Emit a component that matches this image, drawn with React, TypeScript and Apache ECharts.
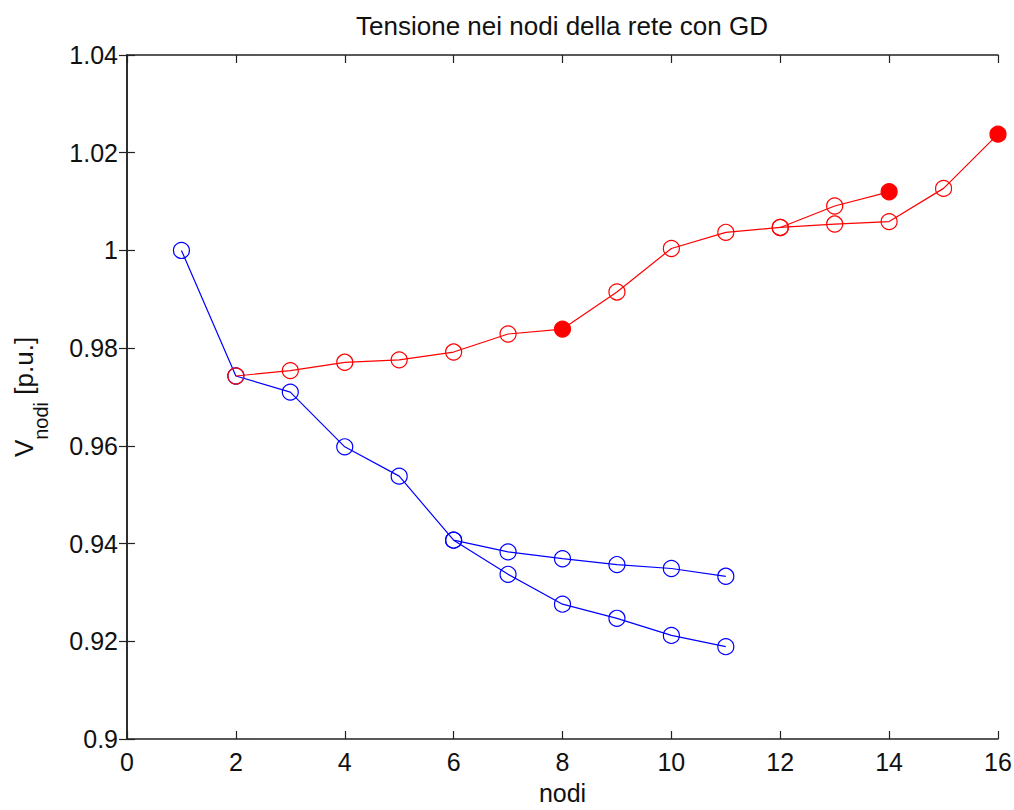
import React, { useEffect, useRef } from "react";
import * as echarts from "echarts";

const titleText = "Tensione nei nodi della rete con GD";
const xTicks = [0, 2, 4, 6, 8, 10, 12, 14, 16];
const yTicks = [0.9, 0.92, 0.94, 0.96, 0.98, 1.0, 1.02, 1.04];

// Rete senza GD (blu)
const blueTrunkNodes = [1, 2, 3, 4, 5, 6];
const blueTrunkValues = [1.0, 0.9743, 0.971, 0.9598, 0.9538, 0.9407];
const blueBranchNodes = [7, 8, 9, 10, 11];
const blueUpperValues = [0.9383, 0.9369, 0.9357, 0.9349, 0.9333];
const blueLowerValues = [0.9337, 0.9276, 0.9247, 0.9212, 0.9189];

// Rete con GD (rosso)
const redTrunkNodes = [2, 3, 4, 5, 6, 7, 8, 9, 10, 11, 12];
const redTrunkValues = [0.9743, 0.9754, 0.9771, 0.9776, 0.9792, 0.9829, 0.9839, 0.9915, 1.0004, 1.0037, 1.0047];
const redLowerNodes = [13, 14, 15, 16];
const redLowerValues = [1.0054, 1.0059, 1.0127, 1.0238];
const redUpperNodes = [13, 14];
const redUpperValues = [1.0091, 1.012];
// nodi con generatori (marker pieni)
const gdTrunkNodes = [8];
const gdLowerNodes = [16];
const gdUpperNodes = [14];

const FONT = "'Liberation Sans', Arial, sans-serif";

function pts(nodes: number[], vals: number[], filled: number[], color: string) {
  return nodes.map((n, i) => {
    const d: any = { value: [n, vals[i]] };
    if (filled.includes(n)) d.itemStyle = { color, borderColor: color };
    return d;
  });
}

function lineSeries(data: any[], color: string) {
  return {
    type: "line",
    xAxisIndex: 0,
    yAxisIndex: 0,
    data,
    symbol: "circle",
    symbolSize: 16,
    showAllSymbol: true,
    lineStyle: { color, width: 1.2 },
    itemStyle: { color: "rgba(0,0,0,0)", borderColor: color, borderWidth: 1.2 },
    emphasis: { disabled: true },
  };
}

export default function App() {
  const ref = useRef<HTMLDivElement>(null);
  useEffect(() => {
    document.body.style.margin = "0";
    const chart = echarts.init(ref.current!, null, { renderer: "svg" });
    const fmt = (v: number) => String(parseFloat(v.toFixed(2)));
    const blueA = pts(
      [...blueTrunkNodes, ...blueBranchNodes],
      [...blueTrunkValues, ...blueUpperValues],
      [],
      "#0000ff"
    );
    const blueB = pts(
      [blueTrunkNodes[blueTrunkNodes.length - 1], ...blueBranchNodes],
      [blueTrunkValues[blueTrunkValues.length - 1], ...blueLowerValues],
      [],
      "#0000ff"
    );
    const redA = pts(
      [...redTrunkNodes, ...redLowerNodes],
      [...redTrunkValues, ...redLowerValues],
      [...gdTrunkNodes, ...gdLowerNodes],
      "#ff0000"
    );
    const redB = pts(
      [redTrunkNodes[redTrunkNodes.length - 1], ...redUpperNodes],
      [redTrunkValues[redTrunkValues.length - 1], ...redUpperValues],
      gdUpperNodes,
      "#ff0000"
    );
    const axisCommon = {
      axisLine: { show: true, lineStyle: { color: "#222", width: 1.5 } },
      axisTick: { show: true, inside: true, length: 8, lineStyle: { color: "#222", width: 1.2 } },
      splitLine: { show: false },
    };
    const labelStyle = { fontFamily: FONT, fontSize: 25, color: "#111" };
    chart.setOption({
      animation: false,
      backgroundColor: "#fff",
      title: {
        text: titleText,
        left: 557,
        textAlign: "center",
        top: 8,
        textStyle: { fontFamily: FONT, fontSize: 26, fontWeight: "normal", color: "#111" },
      },
      grid: { left: 127, right: 16, top: 55, bottom: 71, show: false, outerBoundsMode: "none", containLabel: false },
      xAxis: [
        {
          type: "value",
          min: xTicks[0],
          max: xTicks[xTicks.length - 1],
          interval: 2,
          position: "bottom",
          name: "nodi",
          nameLocation: "middle",
          nameGap: 41,
          nameTextStyle: { fontFamily: FONT, fontSize: 25, color: "#111" },
          axisLabel: { ...labelStyle, margin: 10 },
          ...axisCommon,
        },
        {
          type: "value",
          min: xTicks[0],
          max: xTicks[xTicks.length - 1],
          interval: 2,
          position: "top",
          axisLabel: { show: false },
          ...axisCommon,
        },
      ],
      yAxis: [
        {
          type: "value",
          min: yTicks[0],
          max: yTicks[yTicks.length - 1],
          interval: 0.02,
          position: "left",
          axisLabel: { ...labelStyle, margin: 9, formatter: fmt },
          name: "{a|V}{b|nodi}{a| [p.u.]}",
          nameLocation: "middle",
          nameRotate: 90,
          nameGap: 76,
          nameTextStyle: {
            rich: {
              a: { fontFamily: FONT, fontSize: 26, color: "#111", verticalAlign: "bottom", padding: [0, 0, 14, 0] },
              b: { fontFamily: FONT, fontSize: 20, color: "#111", verticalAlign: "bottom" },
            },
          },
          ...axisCommon,
        },
        {
          type: "value",
          min: yTicks[0],
          max: yTicks[yTicks.length - 1],
          interval: 0.02,
          position: "right",
          axisLabel: { show: false },
          ...axisCommon,
        },
      ],
      series: [
        lineSeries(blueA, "#0000ff"),
        lineSeries(blueB, "#0000ff"),
        lineSeries(redA, "#ff0000"),
        lineSeries(redB, "#ff0000"),
      ],
    });
    return () => chart.dispose();
  }, []);
  return <div ref={ref} style={{ width: 1014, height: 810 }} />;
}
